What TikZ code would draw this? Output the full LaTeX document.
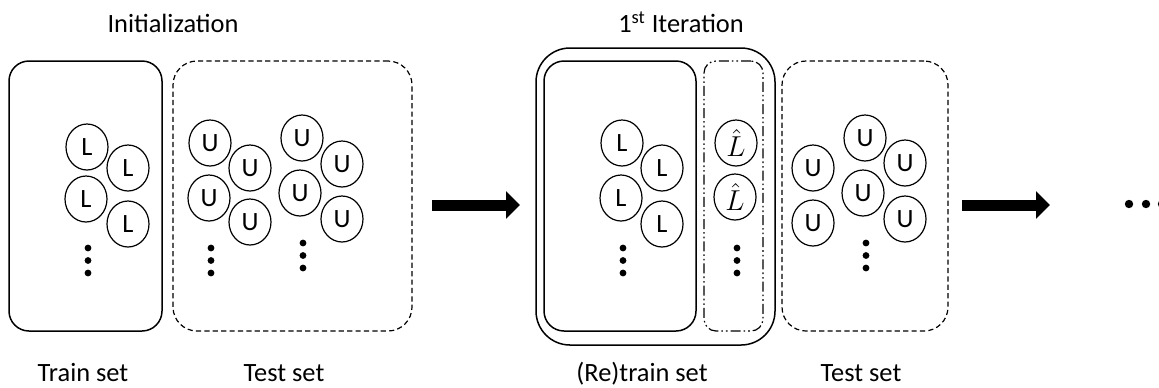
\documentclass[tikz,border=0pt]{standalone}
\usepackage{fontspec}
\setmainfont{Carlito}
\usetikzlibrary{positioning, arrows.meta, fit, shapes.geometric}
\newcommand{\dotcol}[2]{\foreach \k in {0,1,2} {\fill (#1,#2+12.5*\k) circle (1.7pt);}}
\newcommand{\Lhat}{\fontsize{15}{18}\selectfont$\hat{L}$}

\begin{document}
\begin{tikzpicture}[
    x=0.5pt, y=-0.5pt,
    font=\fontsize{13.2}{16}\selectfont,
    setbox/.style={draw, line width=0.75pt, inner sep=0pt},
    trainbox/.style={setbox, rounded corners=10pt},
    testbox/.style={setbox, line width=0.6pt, dash pattern=on 2.6pt off 1.6pt, rounded corners=12pt},
    pseudobox/.style={setbox, line width=0.6pt, rounded corners=6pt,
                      dash pattern=on 5pt off 1.5pt on 0.8pt off 1.5pt on 0.8pt off 1.5pt},
    sample/.style={ellipse, draw, line width=0.6pt, minimum width=21pt, minimum height=23pt, inner sep=0pt},
    title/.style={anchor=base},
    flow/.style={line width=5.5pt, -{Triangle[length=7pt, width=13.5pt]}},
  ]
  \useasboundingbox (0,0) rectangle (1159,387);

  % ---- initialization
  \node[title] (tinit) at (173,32) {Initialization};
  \node[trainbox, fit={(9,61) (162,331)}] (train) {};
  \node[testbox, fit={(173,61) (412,331)}] (test) {};

  \node[sample] (l1) at (87,147) {L};
  \node[sample] (l2) at (128,168) {L};
  \node[sample] (l3) at (86,199) {L};
  \node[sample] (l4) at (128,224) {L};
  \dotcol{88}{248}

  \node[sample] (u1) at (210,143) {U};
  \node[sample] (u2) at (250,168) {U};
  \node[sample] (u3) at (209,198) {U};
  \node[sample] (u4) at (250,222) {U};
  \dotcol{211}{248}
  \node[sample] (u5) at (302,138) {U};
  \node[sample] (u6) at (342,164) {U};
  \node[sample] (u7) at (300,193) {U};
  \node[sample] (u8) at (342,219) {U};
  \dotcol{303}{243}

  \node[title] (ltrain) at (83,381) {Train set};
  \node[title] (ltest) at (284,381) {Test set};

  % ---- step arrow
  \coordinate (fa1) at (432,205);
  \coordinate (fa2) at (520,205);
  \draw[flow] (fa1) -- (fa2);

  % ---- 1st iteration
  \node[title] (titer) at (681,32) {1\textsuperscript{st} Iteration};
  \node[setbox, rounded corners=17pt, fit={(536,48) (775,345)}] (retrain) {};
  \node[trainbox, fit={(544,61) (696,331)}] (train2) {};
  \node[pseudobox, fit={(704,61) (763,331)}] (pseudo) {};
  \node[testbox, fit={(782,61) (948,331)}] (test2) {};

  \node[sample] (m1) at (622,143) {L};
  \node[sample] (m2) at (662,168) {L};
  \node[sample] (m3) at (621,198) {L};
  \node[sample] (m4) at (662,224) {L};
  \dotcol{623}{248}

  \node[sample] (p1) at (736,143) {\Lhat};
  \node[sample] (p2) at (735,197) {\Lhat};
  \dotcol{737}{248}

  \node[sample] (v1) at (813,168) {U};
  \node[sample] (v2) at (813,223) {U};
  \node[sample] (v3) at (865,138) {U};
  \node[sample] (v4) at (905,163) {U};
  \node[sample] (v5) at (863,193) {U};
  \node[sample] (v6) at (905,219) {U};
  \dotcol{866}{243}

  \node[title] (lretrain) at (642,381) {(Re)train set};
  \node[title] (ltest2) at (861,381) {Test set};

  % ---- next step
  \coordinate (fb1) at (962,205);
  \coordinate (fb2) at (1050,205);
  \draw[flow] (fb1) -- (fb2);
  \foreach \x in {1129,1146,1162} {\fill (\x,204) circle (2.1pt);}
\end{tikzpicture}
\end{document}
